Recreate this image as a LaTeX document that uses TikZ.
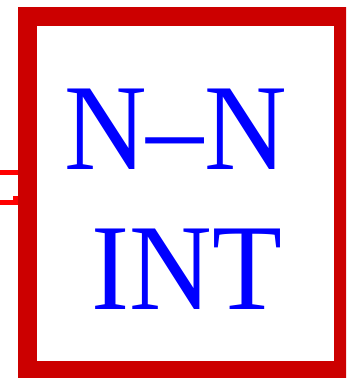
\documentclass[tikz,border=0pt]{standalone}
\usepackage{fontspec}
\setmainfont{Liberation Serif}[FakeStretch=0.93]
\usepackage{tikz}
\usetikzlibrary{calc}
\definecolor{boxred}{RGB}{204,0,0}
\definecolor{portred}{RGB}{255,0,0}
\definecolor{txtblue}{RGB}{0,0,255}

\begin{document}
\begin{tikzpicture}[x=1pt,y=-1pt]
  \useasboundingbox (0,0) rectangle (346,378);
  \clip (0,0) rectangle (346,378);
  \fill[white] (0,0) rectangle (346,378);
  \node[draw=boxred, line width=19pt, minimum width=316.5pt, minimum height=354pt, inner sep=0pt] (nnint) at (185.25,193) {};
  \coordinate (P1) at (0,172.5); \draw[portred, line width=5pt] (P1) -- (P1 -| nnint.west);
  \coordinate (P2) at (0,202.5); \draw[portred, line width=5pt] (P2) -- (P2 -| nnint.west);
  \fill[portred] (13,196) rectangle (18,200);
  \node[txtblue, anchor=base, inner sep=0pt, font=\fontsize{123}{140}\selectfont] (lbl1) at (175.5,169) {N--N};
  \node[txtblue, anchor=base, inner sep=0pt, font=\fontsize{123}{140}\selectfont] (lbl2) at (187,309) {INT};
\end{tikzpicture}
\end{document}
